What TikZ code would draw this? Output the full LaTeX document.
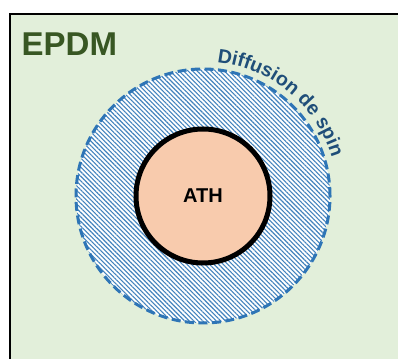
\documentclass[tikz,border=0pt]{standalone}
\usepackage{fontspec}
\setmainfont{Liberation Sans}
\usepackage{xcolor}
\usetikzlibrary{positioning, patterns.meta, decorations.text}
\definecolor{epdmbg}{HTML}{E2EFDA}
\definecolor{epdmtext}{HTML}{385723}
\definecolor{spinblue}{HTML}{2E75B6}
\definecolor{spintext}{HTML}{1F4E79}
\definecolor{athfill}{HTML}{F8CBAD}
\tikzset{
  zone/.style={draw=black, line width=2pt, fill=epdmbg},
  zonelabel/.style={inner sep=0pt, text=epdmtext, font=\bfseries\fontsize{33}{33}\selectfont},
  spinzone/.style={circle, draw=spinblue, line width=3pt, dash pattern=on 9pt off 4.5pt,
                   preaction={fill=white},
                   pattern={Lines[angle=-45, distance=3.2pt, line width=1.1pt]},
                   pattern color=spinblue!90, minimum size=254pt, inner sep=0pt},
  core/.style={circle, draw=black, line width=5pt, fill=athfill, minimum size=134pt,
               inner sep=0pt, font=\bfseries\fontsize{20}{20}\selectfont},
}

\begin{document}
\begin{tikzpicture}[x=1pt, y=1pt]
\useasboundingbox (0,0) rectangle (398,358);
\draw[zone] (9.8,343.7) rectangle (420,-20);
\node[zonelabel, anchor=base west] (epdm) at (21.5,302) {EPDM};
\node[spinzone] (spin) at (203,162) {};
\node[core] (ath) at (spin.center) {ATH};
% curved label round the spin zone
\path[decorate, decoration={text along path, text align=left, text color=spintext,
      text={|\bfseries\fontsize{19.5}{19.5}\selectfont|Diffusion de spin}}]
  ([shift={(84:134.5pt)}]spin.center) arc[start angle=84, end angle=0, radius=134.5pt];
\end{tikzpicture}
\end{document}
